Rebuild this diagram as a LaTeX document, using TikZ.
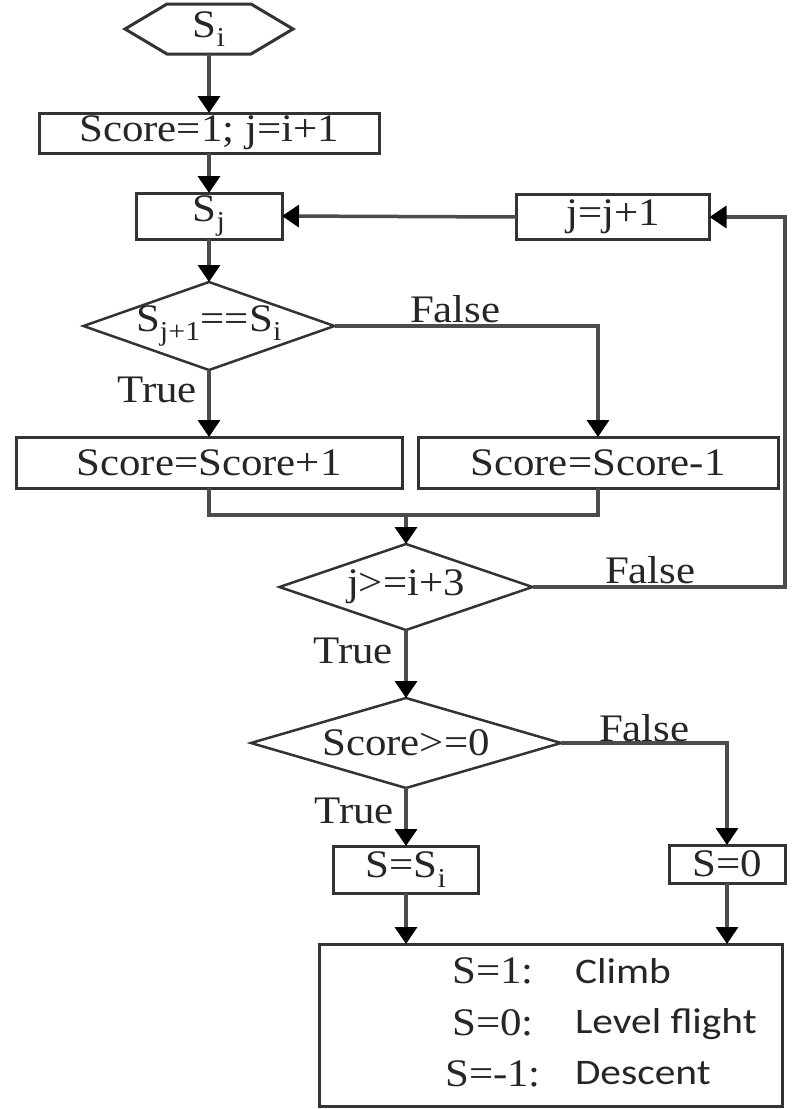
\documentclass[tikz,border=0pt]{standalone}
\usepackage{fontspec}
\setmainfont[FakeStretch=1.1]{Liberation Serif}
\newfontfamily\legfont[FakeStretch=1.15]{Carlito}
\usetikzlibrary{shapes.geometric,arrows.meta}
\begin{document}
\begin{tikzpicture}[x=1pt,y=-1pt,
  every node/.style={font=\fontsize{39}{45}\selectfont, text=black!85, inner sep=0pt, outer sep=0pt},
  box/.style={draw=black!80, line width=3pt, rectangle},
  dia/.style={draw=black!80, line width=2.5pt, diamond, inner sep=-4pt},
  conn/.style={draw=black!70, line width=3.5pt},
  arr/.style={conn, -{Triangle[length=17pt,width=22pt,color=black]}},
  leg/.style={anchor=base west, font=\legfont\fontsize{36}{40}\selectfont}
]
\useasboundingbox (0,0) rectangle (795,1109);

% nodes
\node[minimum width=168pt, minimum height=50pt] (hex) at (209,29) {S\textsubscript{i}};
\draw[box] (hex.west) -- ([xshift=42pt]hex.north west) -- ([xshift=-42pt]hex.north east)
  -- (hex.east) -- ([xshift=-42pt]hex.south east) -- ([xshift=42pt]hex.south west) -- cycle;

\node[box, minimum width=340pt, minimum height=40pt] (init) at (209,133) {Score=1; j=i+1};
\node[box, minimum width=146pt, minimum height=46pt] (sj) at (209,216) {S\textsubscript{j}};
\node[box, minimum width=193pt, minimum height=45pt] (jinc) at (613,217) {j=j+1};
\node[dia, aspect=2.85, minimum width=251pt, minimum height=88pt] (d1) at (209,326) {S\textsubscript{j+1}==S\textsubscript{i}};
\node[box, minimum width=386pt, minimum height=51pt] (bplus) at (209,462.5) {Score=Score+1};
\node[box, minimum width=360pt, minimum height=51pt] (bminus) at (598,462.5) {Score=Score-1};
\node[dia, aspect=2.94, minimum width=253pt, minimum height=86pt] (d2) at (406,587) {j>=i+3};
\node[dia, aspect=3.44, minimum width=310pt, minimum height=90pt] (d3) at (406,743) {Score>=0};
\node[box, minimum width=145pt, minimum height=47pt] (ssi) at (406,869.5) {S=S\textsubscript{i}};
\node[box, minimum width=116pt, minimum height=38pt] (s0) at (727,864) {S=0};
\node[box, minimum width=463pt, minimum height=162pt] (out) at (550.5,1025) {};

% connectors
\draw[arr] (hex.south) -- (init.north);
\draw[arr] (init.south) -- (sj.north);
\draw[arr] (sj.south) -- (d1.north);
\draw[arr] (jinc.west) -- (sj.east);
\draw[arr] (d1.south) -- (bplus.north);
\draw[arr] (d1.east) -| (bminus.north);
\coordinate (m) at (406,515);
\draw[conn] (bplus.south) |- (m);
\draw[conn] (bminus.south) |- (m);
\draw[arr] (m) -- (d2.north);
\coordinate (r) at (785,587);
\draw[arr] (d2.east) -- (r) |- (jinc.east);
\draw[arr] (d2.south) -- (d3.north);
\draw[arr] (d3.south) -- (ssi.north);
\draw[arr] (d3.east) -| (s0.north);
\draw[arr] (ssi.south) -- (ssi.south |- out.north);
\draw[arr] (s0.south) -- (s0.south |- out.north);

% branch labels
\node[anchor=base east] (t1) at (197,402) {True};
\node[anchor=base west] (f1) at (410,322) {False};
\node[anchor=base west] (f2) at (605,583) {False};
\node[anchor=base east] (t2) at (393,663) {True};
\node[anchor=base west] (f3) at (599,741) {False};
\node[anchor=base east] (t3) at (394,823) {True};

% legend
\node[anchor=base] (l1) at (493,983) {S=1:};
\node[anchor=base] (l2) at (493,1035) {S=0:};
\node[anchor=base] (l3) at (493,1086) {S=-1:};
\node[leg] (c1) at (575,983) {Climb};
\node[leg] (c2) at (575,1033) {Level flight};
\node[leg] (c3) at (575,1084) {Descent};
\end{tikzpicture}
\end{document}
